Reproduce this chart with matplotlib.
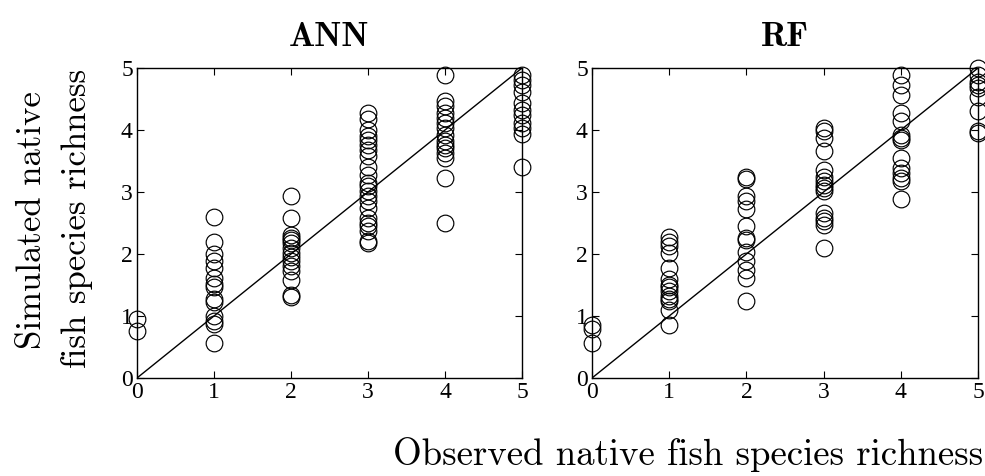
import matplotlib
matplotlib.use("Agg")
import matplotlib.pyplot as plt

# ANN simulated values per observed richness
ann_obs0 = [0.95, 0.76]
ann_obs1 = [2.59, 2.20, 2.00, 1.88, 1.78, 1.62, 1.52, 1.46, 1.28, 1.22, 1.00, 0.92, 0.87, 0.57]
ann_obs2 = [2.94, 2.58, 2.30, 2.26, 2.22, 2.18, 2.10, 2.02, 1.95, 1.88, 1.80, 1.72, 1.58, 1.34, 1.30]
ann_obs3 = [4.28, 4.17, 4.00, 3.90, 3.84, 3.76, 3.68, 3.58, 3.41, 3.28, 3.15, 3.09, 3.01,
            2.93, 2.85, 2.74, 2.58, 2.50, 2.45, 2.37, 2.21, 2.18]
ann_obs4 = [4.89, 4.46, 4.38, 4.27, 4.19, 4.11, 4.03, 3.92, 3.82, 3.76, 3.71, 3.63, 3.55, 3.23, 2.50]
ann_obs5 = [4.89, 4.81, 4.73, 4.62, 4.44, 4.33, 4.25, 4.11, 4.03, 3.94, 3.41]

# RF simulated values per observed richness
rf_obs0 = [0.86, 0.79, 0.56]
rf_obs1 = [2.27, 2.20, 2.13, 2.02, 1.78, 1.60, 1.50, 1.46, 1.40, 1.32, 1.28, 1.25, 1.10, 0.86]
rf_obs2 = [3.24, 3.21, 2.93, 2.85, 2.72, 2.45, 2.26, 2.23, 2.04, 1.88, 1.75, 1.61, 1.24]
rf_obs3 = [4.03, 3.98, 3.87, 3.66, 3.36, 3.25, 3.17, 3.12, 3.06, 3.01, 2.66, 2.58, 2.53, 2.47, 2.10]
rf_obs4 = [4.89, 4.73, 4.57, 4.27, 4.14, 3.92, 3.87, 3.84, 3.55, 3.39, 3.31, 3.23, 3.17, 2.88]
rf_obs5 = [5.00, 4.89, 4.78, 4.73, 4.68, 4.54, 4.30, 3.98, 3.95]

ann_groups = [ann_obs0, ann_obs1, ann_obs2, ann_obs3, ann_obs4, ann_obs5]
rf_groups = [rf_obs0, rf_obs1, rf_obs2, rf_obs3, rf_obs4, rf_obs5]
observed_levels = [0, 1, 2, 3, 4, 5]
ticks = [0, 1, 2, 3, 4, 5]
titles = ["ANN", "RF"]

fig = plt.figure(figsize=(9.85, 4.76), dpi=100)
ax1 = fig.add_axes([137/985, 1-378/476, 385/985, 310/476])
ax2 = fig.add_axes([592/985, 1-378/476, 386/985, 310/476])

tick_font = dict(family="Liberation Serif", size=17)

for ax, groups, title in zip([ax1, ax2], [ann_groups, rf_groups], titles):
    ax.plot([0, 5], [0, 5], color="black", lw=1.0)
    for xo, vals in zip(observed_levels, groups):
        ax.plot([xo]*len(vals), vals, linestyle="none", marker="o", ms=12,
                mfc="none", mec="black", mew=0.85, clip_on=False, zorder=3)
    ax.set_xlim(0, 5)
    ax.set_ylim(0, 5)
    ax.set_xticks(ticks)
    ax.set_yticks(ticks)
    ax.set_xticklabels([str(t) for t in ticks], **tick_font)
    ax.set_yticklabels([str(t) for t in ticks], **tick_font)
    ax.tick_params(direction="in", top=True, right=True, length=5, width=0.8, pad=3)
    for s in ax.spines.values():
        s.set_linewidth(1.0)
    ax.set_title(title, fontsize=25, fontfamily="cmb10", pad=16)

fig.text(32/985, 1-220/476, "Simulated native", rotation=90, ha="center", va="center",
         fontsize=25, family="cmr10")
fig.text(77/985, 1-218/476, "fish species richness", rotation=90, ha="center", va="center",
         fontsize=25, family="cmr10")
fig.text(688/985, 1-455/476, "Observed native fish species richness", ha="center", va="center",
         fontsize=26.5, family="cmr10")

fig.savefig("out.png", dpi=100)
